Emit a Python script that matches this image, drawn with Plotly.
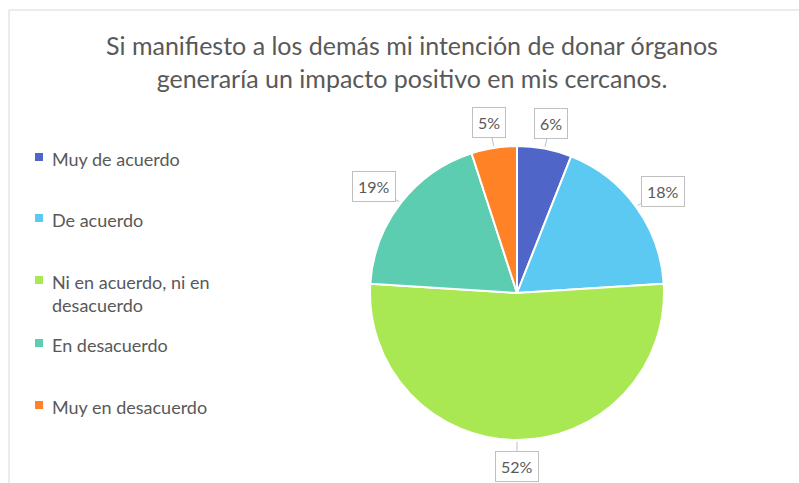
import math
import plotly.graph_objects as go

# Datos de la encuesta
categorias = ['Muy de acuerdo', 'De acuerdo', 'Ni en acuerdo, ni en desacuerdo',
              'En desacuerdo', 'Muy en desacuerdo']
etiquetas_leyenda = ['Muy de acuerdo', 'De acuerdo', 'Ni en acuerdo, ni en<br>desacuerdo',
                     'En desacuerdo', 'Muy en desacuerdo']
porcentajes = [6, 18, 52, 19, 5]
colores = ['#4F66C8', '#5BC9F1', '#A9E853', '#5CCDB0', '#FF8226']

W, H = 799, 483
gris = '#595959'
fuente = 'Lato'

# Posicion del pastel en pixeles
cx, cy, radio = 517, 293, 147

fig = go.Figure()
fig.add_trace(go.Pie(
    labels=categorias,
    values=porcentajes,
    marker=dict(colors=colores, line=dict(color='white', width=2)),
    sort=False,
    direction='clockwise',
    rotation=0,
    textinfo='none',
    hoverinfo='label+percent',
    showlegend=False,
    domain=dict(x=[(cx - radio) / W, (cx + radio) / W],
                y=[(H - cy - radio) / H, (H - cy + radio) / H]),
))

# Etiquetas de datos con recuadro, colocadas en el angulo medio de cada porcion
total = sum(porcentajes)
acum = 0
caja_w, caja_h = 44, 28
for v in porcentajes:
    medio = (acum + v / 2) / total * 2 * math.pi
    acum += v
    s, c = math.sin(medio), math.cos(medio)
    # punto en el borde del pastel
    px_, py_ = cx + (radio + 2) * s, cy - (radio + 2) * c
    # centro de la caja
    bx = cx + (radio + 12) * s + s * caja_w / 2
    by = cy - (radio + 12) * c - c * caja_h / 2
    fig.add_annotation(
        x=px_ / W, y=1 - py_ / H, xref='paper', yref='paper',
        ax=bx - px_, ay=by - py_, axref='pixel', ayref='pixel',
        text=f'{round(v / total * 100)}%', showarrow=True,
        arrowhead=0, arrowwidth=1, arrowcolor='#BFBFBF',
        font=dict(family=fuente, size=16, color=gris),
        bgcolor='white', bordercolor='#BFBFBF', borderwidth=1, borderpad=5,
    )

# Leyenda manual
y_leyenda = [157, 218, 280, 343, 405]
for etiqueta, color, yl in zip(etiquetas_leyenda, colores, y_leyenda):
    fig.add_shape(type='rect', xref='paper', yref='paper',
                  x0=35 / W, x1=43 / W, y0=1 - (yl - 4) / H, y1=1 - (yl + 4) / H,
                  fillcolor=color, line=dict(width=0))
    fig.add_annotation(x=50 / W, y=1 - (yl - 11) / H, xref='paper', yref='paper',
                       text=etiqueta, showarrow=False, xanchor='left', yanchor='top',
                       align='left', font=dict(family=fuente, size=18, color=gris))

# Borde del grafico
fig.add_shape(type='rect', xref='paper', yref='paper',
              x0=9 / W, x1=1.01, y0=-0.01, y1=1 - 10 / H,
              line=dict(color='#D9D9D9', width=1))

fig.update_layout(
    width=W, height=H,
    margin=dict(l=0, r=0, t=0, b=0),
    paper_bgcolor='white',
    title=dict(text='Si manifiesto a los demás mi intención de donar órganos<br>generaría un impacto positivo en mis cercanos.',
               x=412 / W, xanchor='center', y=1 - 55 / H, yanchor='top',
               font=dict(family=fuente, size=25, color=gris)),
)

fig.write_html('out.html', config={'displayModeBar': False},
               post_script="document.body.style.margin='0';")
